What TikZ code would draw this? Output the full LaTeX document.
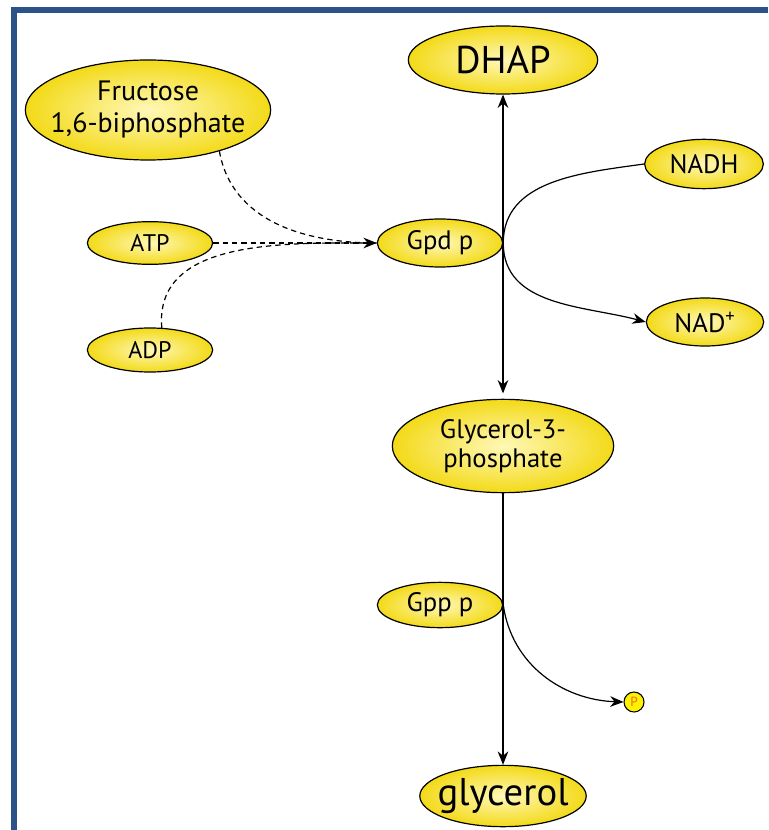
\documentclass[tikz,border=0pt]{standalone}
\usepackage{fontspec}
\setmainfont{PT Sans}
\usepackage{tikz}
\usetikzlibrary{arrows.meta,shapes.geometric}
\definecolor{FrameBlue}{HTML}{2B5389}
\definecolor{MolGold}{HTML}{F3DA18}
\definecolor{MolLight}{HTML}{FFF8B8}
\definecolor{PhosRed}{HTML}{F06A2A}
\tikzset{
  mol/.style={
    ellipse,
    draw=black,
    line width=0.9pt,
    inner sep=0pt,
    shading=radial,
    inner color=MolLight,
    outer color=MolGold,
    align=center,
    font=\fontsize{20}{22}\selectfont
  },
  smallmol/.style={mol, font=\fontsize{18}{20}\selectfont},
  bigmol/.style={mol, inner sep=-5pt, font=\fontsize{29}{32}\selectfont},
  flux/.style={line width=0.9pt, -{Stealth[length=10pt,width=8pt]}},
  effector/.style={line width=0.9pt, dashed, dash pattern=on 4pt off 3pt}
}

\begin{document}
\begin{tikzpicture}[x=0.75pt,y=-0.75pt]
  \useasboundingbox (0,0) rectangle (768,830);
  % frame
  \draw[FrameBlue, line width=3.8pt] (14,830) -- (14,10) -- (768,10);

  % metabolites
  \node[bigmol, minimum width=142pt, minimum height=51pt] (dhap) at (503,60) {DHAP};
  \node[mol, inner sep=-9pt, font=\fontsize{21}{24}\selectfont, minimum width=184pt, minimum height=75pt] (fru) at (148,110) {Fructose\\1,6-biphosphate};
  \node[smallmol, minimum width=94pt, minimum height=32pt] (atp) at (150,243) {ATP};
  \node[smallmol, minimum width=94pt, minimum height=33pt] (adp) at (150,350) {ADP};
  \node[mol, minimum width=94pt, minimum height=36pt] (gpd) at (440,243) {Gpd p};
  \node[mol, minimum width=89pt, minimum height=37pt] (nadh) at (704,164) {NADH};
  \node[mol, minimum width=88pt, minimum height=36pt] (nad) at (705,322) {NAD\textsuperscript{+}};
  \node[mol, minimum width=166pt, minimum height=70pt] (g3p) at (503,446) {Glycerol-3-\\phosphate};
  \node[mol, minimum width=94pt, minimum height=34pt] (gpp) at (440,605) {Gpp p};
  \node[circle, draw=black, line width=0.8pt, fill=yellow, inner sep=0pt, minimum size=15pt,
        font=\fontsize{10}{10}\selectfont\color{PhosRed}] (pi) at (634,702) {P};
  \node[bigmol, minimum width=123pt, minimum height=46pt] (glyc) at (503,796) {glycerol};

  % main pathway
  \draw[flux, {Stealth[length=10pt,width=8pt]}-{Stealth[length=10pt,width=8pt]}] (dhap.south) -- ([yshift=4pt]g3p.north);
  \draw[flux] (g3p.south) -- (glyc.north);

  % cofactors
  \draw[line width=0.9pt] (nadh.west) to[out=188,in=90] (gpd.east);
  \draw[flux] (gpd.east) to[out=-90,in=165] (nad.west);
  \draw[flux] (gpp.east) to[out=-82,in=178] (pi.west);

  % regulation
  \draw[effector] (fru.-30) to[out=-80,in=180] (gpd.west);
  \draw[effector, -{Stealth[length=10pt,width=8pt]}] (atp.east) -- (gpd.west);
  \draw[effector] (adp.62) to[out=95,in=180] (gpd.west);
\end{tikzpicture}
\end{document}
